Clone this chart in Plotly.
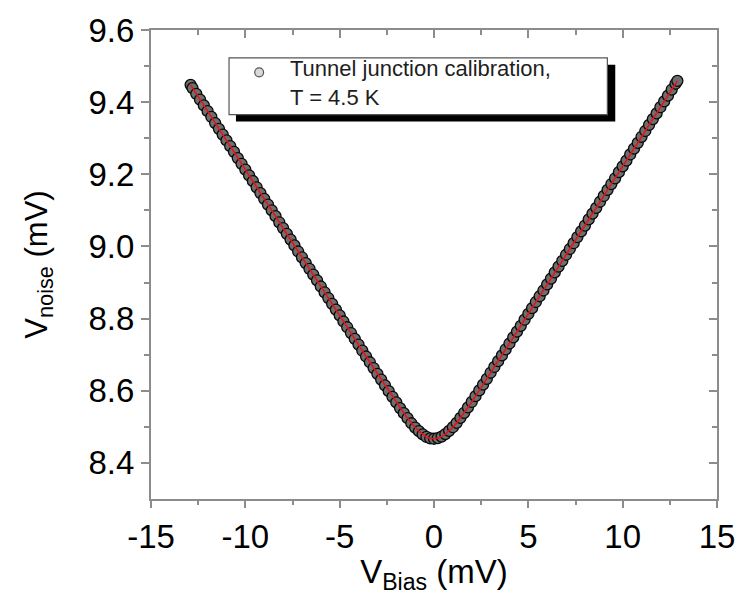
import plotly.graph_objects as go

# Bias voltage (mV)
v_bias = [
    -12.9, -12.8, -12.6, -12.4, -12.2, -12.0, -11.8, -11.6, -11.4, -11.2, -11.0,
    -10.8, -10.6, -10.4, -10.2, -10.0, -9.8, -9.6, -9.4, -9.2, -9.0,
    -8.8, -8.6, -8.4, -8.2, -8.0, -7.8, -7.6, -7.4, -7.2, -7.0,
    -6.8, -6.6, -6.4, -6.2, -6.0, -5.8, -5.6, -5.4, -5.2, -5.0,
    -4.8, -4.6, -4.4, -4.2, -4.0, -3.8, -3.6, -3.4, -3.2, -3.0,
    -2.8, -2.6, -2.4, -2.2, -2.0, -1.8, -1.6, -1.4, -1.2, -1.0,
    -0.8, -0.6, -0.4, -0.2, 0.0,
    0.2, 0.4, 0.6, 0.8, 1.0, 1.2, 1.4, 1.6, 1.8, 2.0,
    2.2, 2.4, 2.6, 2.8, 3.0, 3.2, 3.4, 3.6, 3.8, 4.0,
    4.2, 4.4, 4.6, 4.8, 5.0, 5.2, 5.4, 5.6, 5.8, 6.0,
    6.2, 6.4, 6.6, 6.8, 7.0, 7.2, 7.4, 7.6, 7.8, 8.0,
    8.2, 8.4, 8.6, 8.8, 9.0, 9.2, 9.4, 9.6, 9.8, 10.0,
    10.2, 10.4, 10.6, 10.8, 11.0, 11.2, 11.4, 11.6, 11.8, 12.0,
    12.2, 12.4, 12.6, 12.8, 12.9,
]

# Measured noise voltage (mV)
v_noise = [
    9.448, 9.439, 9.423, 9.407, 9.391, 9.375, 9.359, 9.342, 9.326, 9.310, 9.294,
    9.278, 9.262, 9.245, 9.229, 9.213, 9.197, 9.181, 9.164, 9.148, 9.132,
    9.116, 9.100, 9.084, 9.067, 9.051, 9.035, 9.019, 9.003, 8.986, 8.970,
    8.954, 8.938, 8.922, 8.906, 8.889, 8.873, 8.857, 8.841, 8.825, 8.809,
    8.792, 8.776, 8.760, 8.744, 8.728, 8.711, 8.695, 8.679, 8.663, 8.647,
    8.631, 8.615, 8.599, 8.583, 8.568, 8.552, 8.538, 8.524, 8.510, 8.498,
    8.488, 8.479, 8.472, 8.468, 8.467,
    8.469, 8.473, 8.480, 8.489, 8.499, 8.511, 8.525, 8.539, 8.554, 8.569,
    8.585, 8.601, 8.617, 8.633, 8.650, 8.666, 8.682, 8.698, 8.715, 8.731,
    8.748, 8.764, 8.780, 8.797, 8.813, 8.829, 8.846, 8.862, 8.878, 8.895,
    8.911, 8.928, 8.944, 8.960, 8.977, 8.993, 9.009, 9.026, 9.042, 9.058,
    9.075, 9.091, 9.107, 9.124, 9.140, 9.157, 9.173, 9.189, 9.206, 9.222,
    9.238, 9.255, 9.271, 9.287, 9.304, 9.320, 9.337, 9.353, 9.369, 9.386,
    9.402, 9.418, 9.435, 9.451, 9.459,
]

x_ticks = [-15, -10, -5, 0, 5, 10, 15]
x_tick_labels = ["-15", "-10", "-5", "0", "5", "10", "15"]
y_ticks = [8.4, 8.6, 8.8, 9.0, 9.2, 9.4, 9.6]
y_tick_labels = ["8.4", "8.6", "8.8", "9.0", "9.2", "9.4", "9.6"]

legend_label = "Tunnel junction calibration,<br>T = 4.5 K"

FONT = "Arial, Liberation Sans, Helvetica, sans-serif"
AX = "#8c8c8c"

# plot area in pixels (for placing the legend decoration)
PL, PR, PT, PB = 151, 724, 28, 499
PW, PH = PR - PL, PB - PT


def px(x):
    return (x - PL) / PW


def py(y):
    return (PB - y) / PH


fig = go.Figure()
fig.add_trace(go.Scatter(
    x=v_bias, y=v_noise, mode="markers", name=legend_label, showlegend=False,
    marker=dict(symbol="circle", size=11, color="#6e6e6e",
                line=dict(color="#0a0a0a", width=1.3)),
))
fig.add_trace(go.Scatter(
    x=v_bias, y=v_noise, mode="lines", showlegend=False,
    line=dict(color="#e3151b", width=1.6),
))
# helper trace for mirrored (top/right) axes
fig.add_trace(go.Scatter(x=[None], y=[None], xaxis="x2", yaxis="y2",
                         showlegend=False, hoverinfo="skip"))

xr = [-15, 15]
yr = [8.3, 9.6]
xminor = [-12.5, -7.5, -2.5, 2.5, 7.5, 12.5]
yminor = [8.5, 8.7, 8.9, 9.1, 9.3, 9.5]

fig.update_layout(
    width=747, height=595,
    margin=dict(l=PL, r=747 - PR, t=PT, b=595 - PB),
    paper_bgcolor="white", plot_bgcolor="white",
    font=dict(family=FONT, color="black"),
    xaxis=dict(
        range=xr, tickvals=x_ticks, ticktext=x_tick_labels,
        ticks="outside", ticklen=7, tickwidth=1.5, tickcolor=AX,
        minor=dict(tickvals=xminor, ticks="outside",
                   ticklen=4, tickwidth=1.5, tickcolor=AX),
        showline=True, linecolor=AX, linewidth=2, showgrid=False, zeroline=False,
        tickfont=dict(size=33),
        title=dict(text="V<sub>Bias</sub> (mV)", font=dict(size=33), standoff=4),
    ),
    yaxis=dict(
        range=yr, tickvals=y_ticks, ticktext=y_tick_labels,
        ticks="outside", ticklen=8, tickwidth=1.5, tickcolor=AX,
        minor=dict(tickvals=yminor, ticks="outside",
                   ticklen=5, tickwidth=1.5, tickcolor=AX),
        showline=True, linecolor=AX, linewidth=2, showgrid=False, zeroline=False,
        tickfont=dict(size=33),
        title=dict(text="V<sub>noise</sub> (mV)", font=dict(size=31), standoff=32),
    ),
    xaxis2=dict(
        range=xr, overlaying="x", side="top", anchor="y2",
        tickvals=x_ticks, ticks="inside", ticklen=8, tickwidth=1.5, tickcolor=AX,
        minor=dict(tickvals=xminor, ticks="inside",
                   ticklen=5, tickwidth=1.5, tickcolor=AX),
        showticklabels=False, showline=True, linecolor=AX, linewidth=2,
        showgrid=False, zeroline=False,
    ),
    yaxis2=dict(
        range=yr, overlaying="y", side="right", anchor="x2",
        tickvals=y_ticks, ticks="inside", ticklen=8, tickwidth=1.5, tickcolor=AX,
        minor=dict(tickvals=yminor, ticks="inside",
                   ticklen=5, tickwidth=1.5, tickcolor=AX),
        showticklabels=False, showline=True, linecolor=AX, linewidth=2,
        showgrid=False, zeroline=False,
    ),
    showlegend=False,
    shapes=[
        # legend drop shadow
        dict(type="rect", xref="paper", yref="paper",
             x0=px(237), x1=px(621), y0=py(120), y1=py(63),
             fillcolor="black", line=dict(width=0), layer="above"),
        # legend box
        dict(type="rect", xref="paper", yref="paper",
             x0=px(230), x1=px(613), y0=py(113), y1=py(56),
             fillcolor="white", line=dict(color="#555", width=1.2), layer="above"),
        # legend symbol
        dict(type="circle", xref="paper", yref="paper",
             x0=px(256), x1=px(265), y0=py(75), y1=py(66),
             fillcolor="#d8d8d8", line=dict(color="#555", width=1.2), layer="above"),
    ],
    annotations=[
        dict(text=legend_label, xref="paper", yref="paper",
             x=px(290), y=py(52), xanchor="left", yanchor="top",
             align="left", showarrow=False,
             font=dict(size=22, family=FONT, color="#1e1e1e")),
    ],
)

fig.write_html("out.html")
